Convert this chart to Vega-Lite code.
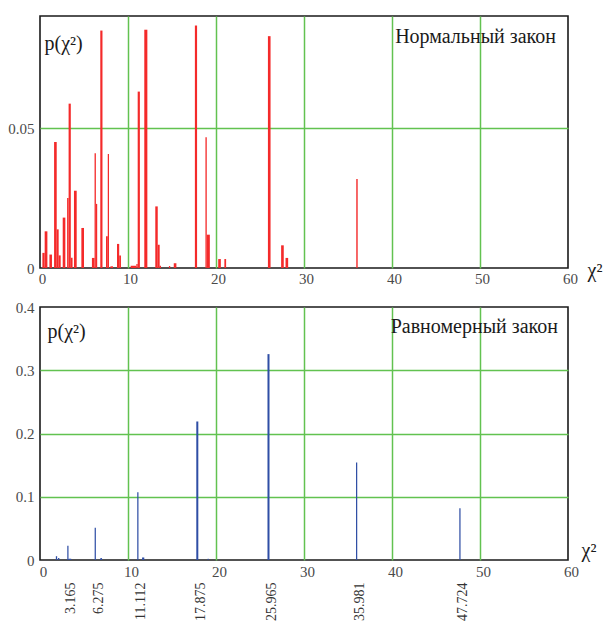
{
  "$schema": "https://vega.github.io/schema/vega-lite/v6.json",
  "padding": {"left": 5, "top": 15, "right": 0, "bottom": 0},
  "spacing": 12,
  "datasets": {
    "normal": [
      {"x1": 0.27, "x2": 0.53, "p": 0.0054},
      {"x1": 0.53, "x2": 0.84, "p": 0.0131},
      {"x1": 1.07, "x2": 1.36, "p": 0.0048},
      {"x1": 1.6, "x2": 1.9, "p": 0.045},
      {"x1": 1.9, "x2": 2.12, "p": 0.0138},
      {"x1": 2.12, "x2": 2.35, "p": 0.0045},
      {"x1": 2.58, "x2": 2.88, "p": 0.018},
      {"x1": 3.08, "x2": 3.25, "p": 0.025},
      {"x1": 3.25, "x2": 3.5, "p": 0.0587},
      {"x1": 3.5, "x2": 3.7, "p": 0.0037},
      {"x1": 3.86, "x2": 4.17, "p": 0.0276},
      {"x1": 4.7, "x2": 5.0, "p": 0.0143},
      {"x1": 5.9, "x2": 6.2, "p": 0.0036},
      {"x1": 6.2, "x2": 6.35, "p": 0.041},
      {"x1": 6.35, "x2": 6.5, "p": 0.0229},
      {"x1": 6.85, "x2": 7.1, "p": 0.0848},
      {"x1": 7.5, "x2": 7.7, "p": 0.0113},
      {"x1": 7.7, "x2": 7.84, "p": 0.0407},
      {"x1": 8.0, "x2": 8.3, "p": 0.0006},
      {"x1": 8.75, "x2": 9.0, "p": 0.0086},
      {"x1": 9.0, "x2": 9.2, "p": 0.0045},
      {"x1": 10.3, "x2": 10.95, "p": 0.0008},
      {"x1": 10.95, "x2": 11.1, "p": 0.0014},
      {"x1": 11.1, "x2": 11.35, "p": 0.063},
      {"x1": 11.85, "x2": 12.2, "p": 0.0851},
      {"x1": 13.1, "x2": 13.38, "p": 0.022},
      {"x1": 13.38, "x2": 13.6, "p": 0.0083},
      {"x1": 13.6, "x2": 13.75, "p": 0.0008},
      {"x1": 14.65, "x2": 14.8, "p": 0.0007},
      {"x1": 15.2, "x2": 15.5, "p": 0.0017},
      {"x1": 17.6, "x2": 17.85, "p": 0.0866},
      {"x1": 18.8, "x2": 18.95, "p": 0.0467},
      {"x1": 18.95, "x2": 19.3, "p": 0.0119},
      {"x1": 20.25, "x2": 20.55, "p": 0.0032},
      {"x1": 20.95, "x2": 21.15, "p": 0.0032},
      {"x1": 25.9, "x2": 26.2, "p": 0.0828},
      {"x1": 27.4, "x2": 27.7, "p": 0.0081},
      {"x1": 27.9, "x2": 28.2, "p": 0.0036},
      {"x1": 35.94, "x2": 36.1, "p": 0.0318}
    ],
    "uniform": [
      {"x1": 1.8, "x2": 1.95, "p": 0.006},
      {"x1": 2.05, "x2": 2.2, "p": 0.003},
      {"x1": 3.1, "x2": 3.24, "p": 0.0224},
      {"x1": 3.24, "x2": 3.55, "p": 0.002},
      {"x1": 6.21, "x2": 6.35, "p": 0.051},
      {"x1": 6.85, "x2": 7.05, "p": 0.003},
      {"x1": 11.05, "x2": 11.19, "p": 0.107},
      {"x1": 11.6, "x2": 11.85, "p": 0.004},
      {"x1": 17.76, "x2": 17.99, "p": 0.219},
      {"x1": 19.05, "x2": 19.17, "p": 0.002},
      {"x1": 25.85, "x2": 26.08, "p": 0.3255},
      {"x1": 35.91, "x2": 36.05, "p": 0.154},
      {"x1": 47.65, "x2": 47.79, "p": 0.082}
    ],
    "uniformLabels": [
      {"x": 3.165}, {"x": 6.275}, {"x": 11.112}, {"x": 17.875},
      {"x": 25.965}, {"x": 35.981}, {"x": 47.724}
    ]
  },
  "config": {
    "font": "Liberation Serif",
    "view": {"stroke": "#1a1a1a", "strokeWidth": 1.6},
    "axis": {
      "domain": false, "ticks": false, "tickSize": 0,
      "gridColor": "#62c250", "gridWidth": 1.5, "gridOpacity": 1,
      "labelFont": "Liberation Serif", "labelFontSize": 15, "labelColor": "#4a4a4a",
      "titleFont": "Liberation Serif", "titleFontWeight": "normal", "titleColor": "#1a1a1a",
      "labelFlush": false, "labelOverlap": false
    },
    "title": {"font": "Liberation Serif", "fontWeight": "normal", "color": "#1a1a1a", "fontSize": 20}
  },
  "vconcat": [
    {
      "width": 528, "height": 252,
      "title": {"text": "Нормальный  закон", "anchor": "end", "frame": "group", "baseline": "alphabetic", "dy": 47, "dx": -12, "offset": 0},
      "data": {"name": "normal"},
      "mark": {"type": "bar", "color": "#f42a2a"},
      "encoding": {
        "x": {"field": "x1", "type": "quantitative", "scale": {"domain": [0, 60], "nice": false},
          "axis": {"values": [0, 10, 20, 30, 40, 50, 60], "labelPadding": 3, "labelOffset": 2,
            "title": "χ²", "titleFontSize": 20, "titleX": 547, "titleY": 8, "titleAlign": "left", "titleBaseline": "alphabetic",
            "gridOpacity": {"condition": {"test": "datum.value == 0 || datum.value == 60", "value": 0}, "value": 1}}},
        "x2": {"field": "x2"},
        "y": {"field": "p", "type": "quantitative", "scale": {"domain": [0, 0.09], "nice": false},
          "axis": {"values": [0, 0.05], "format": "~g", "labelPadding": 6, "minExtent": 34, "maxExtent": 34,
            "title": "p(χ²)", "titleAngle": 0, "titleX": 4, "titleY": 33, "titleAlign": "left", "titleBaseline": "alphabetic", "titleFontSize": 20,
            "gridOpacity": {"condition": {"test": "datum.value == 0", "value": 0}, "value": 1}}},
        "y2": {"datum": 0}
      }
    },
    {
      "width": 528, "height": 253,
      "title": {"text": "Равномерный закон", "anchor": "end", "frame": "group", "baseline": "alphabetic", "dy": 53, "dx": -10, "offset": 0},
      "layer": [
        {
          "data": {"name": "uniform"},
          "mark": {"type": "bar", "color": "#2f4ea5"},
          "encoding": {
            "x": {"field": "x1", "type": "quantitative", "scale": {"domain": [0, 60], "nice": false},
              "axis": {"values": [0, 10, 20, 30, 40, 50, 60], "labelPadding": 4, "labelOffset": 3,
                "title": "χ²", "titleFontSize": 20, "titleX": 541, "titleY": -4, "titleAlign": "left", "titleBaseline": "alphabetic",
                "gridOpacity": {"condition": {"test": "datum.value == 0 || datum.value == 60", "value": 0}, "value": 1}}},
            "x2": {"field": "x2"},
            "y": {"field": "p", "type": "quantitative", "scale": {"domain": [0, 0.4], "nice": false},
              "axis": {"values": [0, 0.1, 0.2, 0.3, 0.4], "format": "~g", "labelPadding": 6, "minExtent": 34, "maxExtent": 34,
                "title": "p(χ²)", "titleAngle": 0, "titleX": 7, "titleY": 30, "titleAlign": "left", "titleBaseline": "alphabetic", "titleFontSize": 20,
                "gridOpacity": {"condition": {"test": "datum.value == 0 || datum.value == 0.4", "value": 0}, "value": 1}}},
            "y2": {"datum": 0}
          }
        },
        {
          "data": {"name": "uniformLabels"},
          "mark": {"type": "rule", "opacity": 0},
          "encoding": {
            "x": {"field": "x", "type": "quantitative", "scale": {"domain": [0, 60], "nice": false},
              "axis": {"orient": "bottom", "values": [3.165, 6.275, 11.112, 17.875, 25.965, 35.981, 47.724], "format": ".3f",
                "labelAngle": -90, "labelAlign": "right", "labelBaseline": "middle", "labelPadding": 22, "labelOffset": 3,
                "labelFontSize": 14, "labelColor": "#333333", "grid": false, "title": null}}
          }
        }
      ],
      "resolve": {"axis": {"x": "independent"}}
    }
  ]
}
